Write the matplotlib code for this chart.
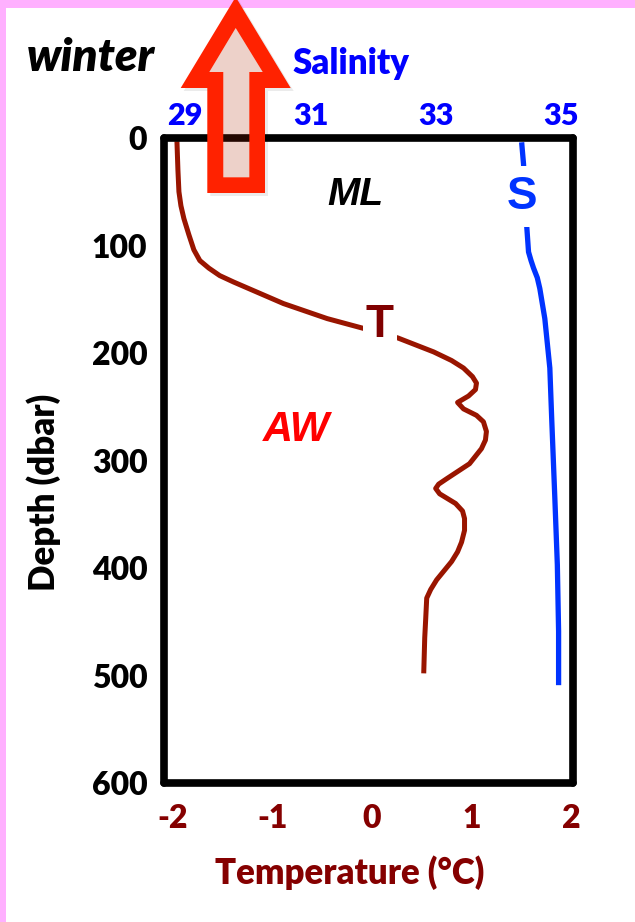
import matplotlib
matplotlib.use("Agg")
import matplotlib.pyplot as plt
from matplotlib.patches import Rectangle, PathPatch
from matplotlib.path import Path
from matplotlib.transforms import Affine2D

# winter profile, temperature (deg C) against depth (dbar)
T_DEPTH = [3, 30, 50, 63, 75, 90, 104, 114, 121, 128, 134, 154, 168, 177,
           186, 199, 207, 214, 222, 228, 234, 240, 246, 252, 258, 264, 273,
           281, 289, 303, 317, 322, 326, 331, 340, 347, 354, 365, 376, 385,
           394, 411, 420, 428, 447, 465, 498]
T_VALUES = [-1.96, -1.95, -1.94, -1.92, -1.89, -1.84, -1.79, -1.73, -1.64,
            -1.53, -1.39, -0.89, -0.45, -0.09, 0.26, 0.62, 0.80, 0.92, 1.01,
            1.05, 1.04, 0.97, 0.86, 0.92, 1.05, 1.12, 1.15, 1.14, 1.10, 0.98,
            0.75, 0.67, 0.64, 0.68, 0.84, 0.91, 0.93, 0.93, 0.90, 0.86, 0.80,
            0.65, 0.59, 0.55, 0.54, 0.53, 0.52]

# salinity against depth
S_DEPTH = [4, 24, 81, 106, 114, 121, 130, 140, 168, 214, 261, 335, 397,
           459, 509]
S_VALUES = [34.37, 34.40, 34.45, 34.48, 34.52, 34.56, 34.62, 34.66, 34.74,
            34.82, 34.85, 34.90, 34.94, 34.96, 34.96]

TEMP_TICKS = [-2, -1, 0, 1, 2]
SAL_TICKS = [29, 31, 33, 35]
DEPTH_TICKS = [0, 100, 200, 300, 400, 500, 600]

W, H = 635, 922

plt.rcParams['font.family'] = ['Lato', 'DejaVu Sans']
plt.rcParams['font.weight'] = 'heavy'
plt.rcParams['axes.unicode_minus'] = False

ARIAL = ['Liberation Sans Narrow', 'Liberation Sans', 'DejaVu Sans']
T_COLOR = '#991500'
S_COLOR = '#0033FF'
DARK_RED = '#850000'
BLUE = '#0000FF'

fig = plt.figure(figsize=(W / 100, H / 100), dpi=100)
fig.patch.set_facecolor('white')

# pixel coordinates measured from the top-left corner
px = Affine2D().scale(1 / W, -1 / H).translate(0, 1) + fig.transFigure

# pink frame along the top and left edge
fig.patches.append(Rectangle((0, 0), W, 8, transform=px, facecolor='#FFB0FF',
                             edgecolor='none', zorder=-1))
fig.patches.append(Rectangle((0, 0), 6, H, transform=px, facecolor='#FFB0FF',
                             edgecolor='none', zorder=-1))

left, right, top, bottom = 164, 573, 138, 783
ax = fig.add_axes([left / W, 1 - bottom / H, (right - left) / W, (bottom - top) / H])

ax.plot(T_VALUES, T_DEPTH, color=T_COLOR, lw=3.6, solid_joinstyle='round',
        solid_capstyle='butt')
ax.set_xlim(-2.09, 2.02)
ax.set_ylim(600, 0)
ax.set_xticks(TEMP_TICKS)
ax.set_yticks(DEPTH_TICKS)
ax.tick_params(axis='x', length=0, pad=15, labelsize=23, labelcolor=DARK_RED)
ax.tick_params(axis='y', length=0, pad=12, labelsize=23, labelcolor='black')
for sp in ax.spines.values():
    sp.set_linewidth(5.5)
    sp.set_capstyle('round')

# salinity on its own top axis
ax2 = ax.twiny()
ax2.plot(S_VALUES, S_DEPTH, color=S_COLOR, lw=3.8, solid_joinstyle='round',
         solid_capstyle='butt')
ax2.set_xlim(28.66, 35.19)
ax2.set_xticks(SAL_TICKS)
ax2.tick_params(axis='x', length=0, pad=6, labelsize=22, labelcolor=BLUE)
for sp in ax2.spines.values():
    sp.set_visible(False)

# curve labels, with white boxes breaking the lines
ax.text(0.08, 174, 'T', color='#800000', fontsize=33, family=ARIAL,
        fontweight='bold', ha='center', va='center',
        bbox=dict(facecolor='white', edgecolor='none', pad=2))
ax2.text(34.38, 54.5, 'S', color=S_COLOR, fontsize=33, family=ARIAL,
         fontweight='bold', ha='center', va='center',
         bbox=dict(facecolor='white', edgecolor='none', pad=6))
ax.text(-0.17, 52.6, 'ML', color='black', fontsize=28, family=ARIAL,
        fontweight='bold', style='italic', ha='center', va='center')
ax.text(-0.76, 272, 'AW', color='#FF0000', fontsize=30, family=ARIAL,
        fontweight='bold', style='italic', ha='center', va='center')

# titles and axis names
fig.text(91 / W, 1 - 58 / H, 'winter', fontsize=33, style='italic',
         color='black', ha='center', va='center')
fig.text(351 / W, 1 - 63 / H, 'Salinity', fontsize=25, color=BLUE,
         ha='center', va='center')
fig.text(350 / W, 1 - 873 / H, 'Temperature (°C)', fontsize=25,
         color=DARK_RED, ha='center', va='center')
fig.text(44 / W, 1 - 492 / H, 'Depth (dbar)', fontsize=25, color='black',
         rotation=90, ha='center', va='center')

# big upward arrow: red outline ring and a pale translucent inside
outer = [(235.7, -3), (290.7, 88), (265, 88), (265, 193), (207.3, 193),
         (207.3, 88), (180.7, 88)]
inner = [(235.7, 28), (262.7, 72), (249.3, 72), (249.3, 177.3),
         (223.3, 177.3), (223.3, 72), (209.3, 72)]
inner_rev = inner[::-1]
verts = outer + [outer[0]] + inner_rev + [inner_rev[0]]
codes = ([Path.MOVETO] + [Path.LINETO] * (len(outer) - 1) + [Path.CLOSEPOLY]) * 2
ring = PathPatch(Path(verts, codes), transform=px, facecolor='#FF2200',
                 edgecolor='none', zorder=5)
fill = PathPatch(Path(inner + [inner[0]],
                      [Path.MOVETO] + [Path.LINETO] * (len(inner) - 1) + [Path.CLOSEPOLY]),
                 transform=px, facecolor='#FF3300', alpha=0.14,
                 edgecolor='none', zorder=5)
shadow = PathPatch(Path([(x + 3, y + 3) for x, y in outer] + [(outer[0][0] + 3, outer[0][1] + 3)],
                        [Path.MOVETO] + [Path.LINETO] * (len(outer) - 1) + [Path.CLOSEPOLY]),
                   transform=px, facecolor='black', alpha=0.08,
                   edgecolor='none', zorder=4)
fig.patches.extend([shadow, ring, fill])

fig.savefig('out.png', dpi=100)
